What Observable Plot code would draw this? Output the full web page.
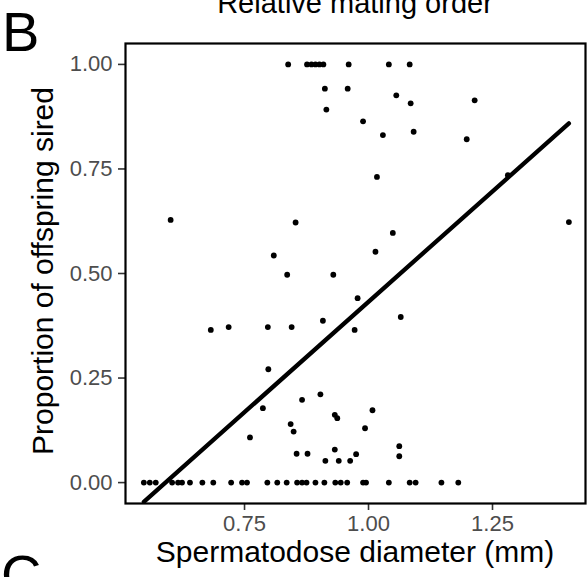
<!DOCTYPE html>
<html>
<head>
<meta charset="utf-8">
<script src="https://cdn.jsdelivr.net/npm/d3@7"></script>
<script src="https://cdn.jsdelivr.net/npm/@observablehq/plot@0.6"></script>
<style>
  html, body { margin: 0; padding: 0; background: #fff; }
  #wrap { position: relative; width: 588px; height: 577px; overflow: hidden; font-family: "Liberation Sans", Arial, Helvetica, sans-serif; }
  #wrap svg { position: absolute; left: 0; top: 0; }
  .lbl { position: absolute; white-space: nowrap; color: #000; line-height: 1; }
</style>
</head>
<body>
<div id="wrap"></div>
<script>
// Sperm diameter (mm) and proportion of offspring sired
const diameter = [
  0.838, 0.876, 0.885, 0.893, 0.901, 0.909, 0.960, 1.041, 1.083,
  0.912, 0.958, 1.056, 1.085, 1.214, 0.915, 0.989, 1.029, 1.091, 1.198,
  1.017, 1.281, 0.601, 0.853, 1.404, 1.049, 1.014, 0.809,
  0.836, 0.929, 0.978, 1.065, 0.908, 0.718, 0.797, 0.845, 0.682, 0.972,
  0.798, 0.903, 0.866, 0.787, 1.008, 0.932, 0.937, 0.843, 0.993, 0.849,
  0.761, 1.062, 0.932, 0.855, 0.877, 0.975, 1.062, 0.913, 0.940, 0.963,
  0.547, 0.559, 0.571, 0.604, 0.616, 0.624, 0.640, 0.665, 0.687, 0.723,
  0.745, 0.755, 0.796, 0.816, 0.835, 0.856, 0.866, 0.875, 0.893, 0.911,
  0.933, 0.944, 0.957, 0.989, 0.995, 1.041, 1.083, 1.095, 1.147, 1.181
];
const sired = [
  1.00, 1.00, 1.00, 1.00, 1.00, 1.00, 1.00, 1.00, 1.00,
  0.942, 0.942, 0.926, 0.907, 0.914, 0.892, 0.864, 0.831, 0.839, 0.821,
  0.731, 0.735, 0.628, 0.622, 0.623, 0.597, 0.552, 0.543,
  0.497, 0.497, 0.441, 0.396, 0.387, 0.372, 0.372, 0.372, 0.365, 0.365,
  0.271, 0.211, 0.198, 0.178, 0.173, 0.162, 0.154, 0.140, 0.130, 0.122,
  0.108, 0.087, 0.079, 0.069, 0.069, 0.068, 0.063, 0.052, 0.052, 0.052,
  0, 0, 0, 0, 0, 0, 0, 0, 0, 0,
  0, 0, 0, 0, 0, 0, 0, 0, 0, 0,
  0, 0, 0, 0, 0, 0, 0, 0, 0, 0
];
// fitted linear regression line
const fitX = [0.547, 1.404];
const fitY = [-0.046, 0.859];

const xTicks = [0.75, 1.00, 1.25];
const yTicks = [0, 0.25, 0.5, 0.75, 1.0];

const points = diameter.map((d, i) => ({x: d, y: sired[i]}));
const fit = fitX.map((d, i) => ({x: d, y: fitY[i]}));

const chart = Plot.plot({
  width: 588,
  height: 577,
  marginLeft: 125,
  marginRight: 3,
  marginTop: 43,
  marginBottom: 74,
  style: {fontFamily: '"Liberation Sans", Arial, Helvetica, sans-serif', background: "#fff"},
  x: {domain: [0.51, 1.4375], ticks: xTicks, tickFormat: ".2f"},
  y: {domain: [-0.05, 1.05], ticks: yTicks, tickFormat: ".2f"},
  marks: [
    Plot.axisX({ticks: xTicks, tickFormat: ".2f", tickSize: 7, tickPadding: 5, fontSize: 22, color: "#4D4D4D", stroke: "#333", strokeWidth: 1.6, label: null}),
    Plot.axisY({ticks: yTicks, tickFormat: ".2f", tickSize: 7, tickPadding: 6, fontSize: 22, color: "#4D4D4D", stroke: "#333", strokeWidth: 1.6, label: null}),
    Plot.dot(points, {x: "x", y: "y", r: 2.9, fill: "black", stroke: null}),
    Plot.line(fit, {x: "x", y: "y", stroke: "black", strokeWidth: 4.3}),
    Plot.frame({stroke: "black", strokeWidth: 2.2})
  ]
});

const wrap = document.getElementById("wrap");
wrap.appendChild(chart);

function addLabel(text, css) {
  const d = document.createElement("div");
  d.className = "lbl";
  d.textContent = text;
  Object.assign(d.style, css);
  wrap.appendChild(d);
  return d;
}
addLabel("Relative mating order", {left: "355px", top: "-11px", fontSize: "29px", transform: "translateX(-50%)"});
addLabel("B", {left: "2px", top: "4px", fontSize: "56px"});
addLabel("C", {left: "1px", top: "547px", fontSize: "56px"});
addLabel("Spermatodose diameter (mm)", {left: "355px", top: "537px", fontSize: "30px", transform: "translateX(-50%)"});
addLabel("Proportion of offspring sired", {left: "43px", top: "271px", fontSize: "30px", transform: "translate(-50%, -50%) rotate(-90deg)"});
</script>
</body>
</html>
